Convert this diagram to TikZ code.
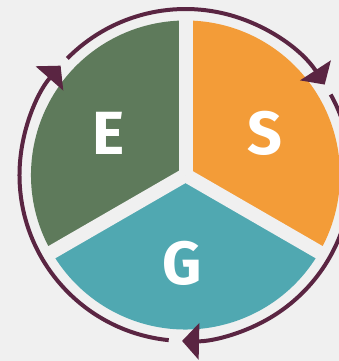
\documentclass[tikz,border=0pt]{standalone}
\usepackage{fontspec}
\newfontfamily\letterfont{Fira Sans}
\usetikzlibrary{arrows.meta}
\definecolor{bgc}{HTML}{F0F0F0}
\definecolor{egreen}{HTML}{5E7A5B}
\definecolor{sorange}{HTML}{F39C38}
\definecolor{gteal}{HTML}{50A8B1}
\definecolor{ringc}{HTML}{5A2542}
\tikzset{
  sector/.style={draw=none},
  gapline/.style={draw=bgc, line width=14pt, line cap=butt},
  ringarc/.style={draw=ringc, line width=4pt, line cap=butt,
    -{Triangle[width=36pt,length=17pt]}},
  letter/.style={text=white, font=\letterfont\bfseries\fontsize{61}{61}\selectfont, inner sep=0pt}
}
\begin{document}
\begin{tikzpicture}[x=1pt,y=1pt]
  \useasboundingbox (-185.5,-186) rectangle (153.5,175);
  \clip (-185.5,-186) rectangle (153.5,175);
  \fill[bgc] (-185.5,-186) rectangle (153.5,175);
  \coordinate (c) at (0,0);
  % sectors
  \fill[sorange] (c) -- (90:154.5) arc[start angle=90, end angle=-30, radius=154.5] -- cycle;
  \fill[gteal] (c) -- (-30:154.5) arc[start angle=-30, end angle=-150, radius=154.5] -- cycle;
  \fill[egreen] (c) -- (210:154.5) arc[start angle=210, end angle=90, radius=154.5] -- cycle;
  % gaps
  \draw[gapline] (c) -- (90:159);
  \draw[gapline] (c) -- (210:159);
  \draw[gapline] (c) -- (330:159);
  % letters
  \node[letter] (e) at (-76.5,42) {E};
  \node[letter] (s) at (79.5,42) {S};
  \node[letter] (g) at (-3,-88) {G};
  % ring arcs
  \draw[ringarc] (135.4:166) arc[start angle=135.4, end angle=33, radius=166];
  \draw[ringarc] (29:166) arc[start angle=29, end angle=-91.2, radius=166];
  \draw[ringarc] (-95.8:166) arc[start angle=-95.8, end angle=-221.2, radius=166];
\end{tikzpicture}
\end{document}
